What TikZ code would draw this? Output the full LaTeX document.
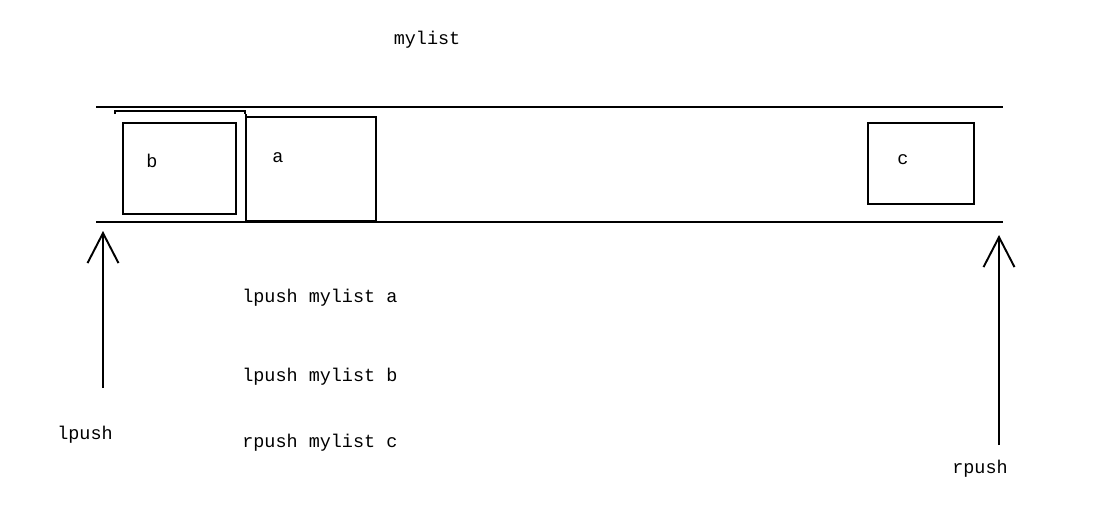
\documentclass[tikz,border=0pt]{standalone}
\usepackage{fontspec}
\setmonofont{Liberation Mono}
\usetikzlibrary{arrows.meta, positioning}

\tikzset{
  wire/.style={line width=1.1pt},
  cell/.style={draw, line width=1.1pt},
  txt/.style={font=\ttfamily\fontsize{10.5pt}{12pt}\selectfont, inner sep=0pt},
  push/.style={line width=1.1pt, -{Straight Barb[length=0.6cm, width=0.62cm, line width=1.1pt]}}
}

\begin{document}
\begin{tikzpicture}[x=0.02cm, y=-0.02cm]
\useasboundingbox (0,0) rectangle (1094,514);

% Title
\node[txt] (title) at (427,40) {mylist};

% List body
\coordinate (topl) at (96,107);
\coordinate (topr) at (1003,107);
\coordinate (botl) at (96,222);
\coordinate (botr) at (1003,222);
\draw[wire] (topl) -- (topr);
\draw[wire] (botl) -- (botr);

% Elements
\draw[wire] (115,114) -- (115,111) -- (245,111) -- (245,114);
\draw[cell] (123,123) rectangle (236,214);
\node[txt] (b) at (152,161) {b};
\draw[cell] (246,117) rectangle (376,221);
\draw[wire] (246,114) -- (246,222);
\node[txt] (a) at (278,158) {a};
\draw[cell] (868,123) rectangle (974,204);
\node[txt] (c) at (903,160) {c};

% Push arrows
\coordinate (lbase) at (103,388);
\coordinate (ltip) at (103,231);
\draw[push] (lbase) -- (ltip);
\node[txt] (lpush) at (85,435) {lpush};
\coordinate (rbase) at (999,445);
\coordinate (rtip) at (999,235);
\draw[push] (rbase) -- (rtip);
\node[txt] (rpush) at (980,469) {rpush};

% Commands
\node[txt, anchor=west] (cmda) at (242,298) {lpush mylist a};
\node[txt, anchor=west] (cmdb) at (242,377) {lpush mylist b};
\node[txt, anchor=west] (cmdc) at (242,443) {rpush mylist c};
\end{tikzpicture}
\end{document}
